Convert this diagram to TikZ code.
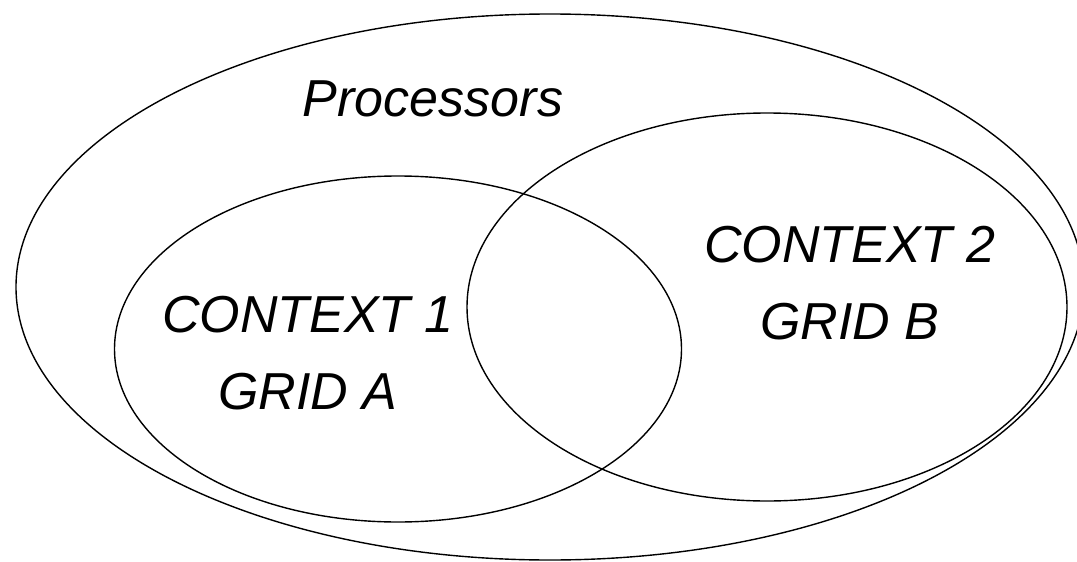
\documentclass[tikz,border=0pt]{standalone}
\usepackage{fontspec}
\setmainfont{Liberation Sans}
\usetikzlibrary{shapes.geometric}

\begin{document}
\begin{tikzpicture}[x=1pt,y=-1pt,
    set/.style={ellipse,draw,line width=1.4pt,inner sep=0pt},
    lbl/.style={font=\fontsize{52}{77}\selectfont\itshape,align=center,inner sep=0pt}]
  \useasboundingbox (0,0) rectangle (1077,562);
  % the three sets
  \node[set,minimum width=1068pt,minimum height=546pt] (proc) at (550,287) {};
  \node[set,minimum width=567pt,minimum height=346pt] (ctxa) at (398,349) {};
  \node[set,minimum width=600pt,minimum height=388pt] (ctxb) at (767,307) {};
  % labels
  \node[lbl] (proclbl) at (433,99) {Processors};
  \node[lbl] (ctxalbl) at (308,353) {CONTEXT 1\\GRID A};
  \node[lbl] (ctxblbl) at (850,283) {CONTEXT 2\\GRID B};
\end{tikzpicture}
\end{document}
